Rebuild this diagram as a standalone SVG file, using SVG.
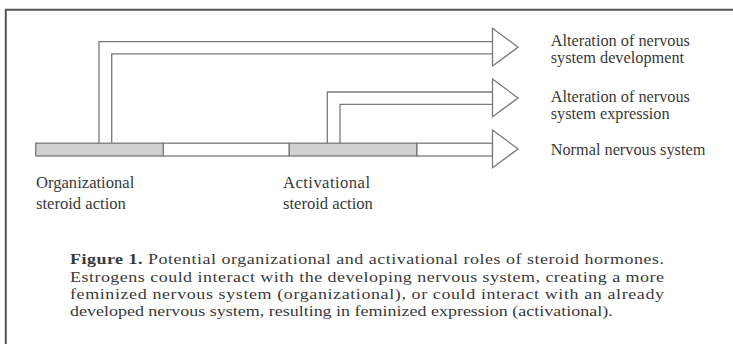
<svg xmlns="http://www.w3.org/2000/svg" width="733" height="344" viewBox="0 0 733 344">
<style>
.ln{fill:none;stroke:#7a7a7a;stroke-width:1.3}
.hd{fill:#fff;stroke:#7a7a7a;stroke-width:1.3;stroke-linejoin:miter}
.g{fill:#d0d0d0;stroke:#7a7a7a;stroke-width:1.3}
.w{fill:#fff;stroke:#7a7a7a;stroke-width:1.3}
.t{font-family:"Liberation Serif","Times New Roman",serif;font-size:16.3px;fill:#3a3a3a}
.s{font-size:16.6px}
.c{font-size:15px;fill:#3a3a3a;font-family:"Liberation Serif","Times New Roman",serif}
.b{font-weight:bold}
</style>
<rect width="733" height="344" fill="#fff"/>
<path d="M5.8,344 V9.8 H733" fill="none" stroke="#555" stroke-width="2"/>
<g id="connectors">
<path class="ln" d="M99,143 V41.7 H492.5"/>
<path class="ln" d="M111.7,143 V53.9 H492.5"/>
<path class="ln" d="M327.3,143 V92 H492.5"/>
<path class="ln" d="M340,143 V104.3 H492.5"/>
<polygon class="hd" points="492.5,28.3 518,47.2 492.5,66"/>
<polygon class="hd" points="492.5,79 518,98 492.5,116.7"/>
</g>
<g id="timeline">
<rect class="w" x="163.3" y="143.2" width="126" height="12.8"/>
<rect class="w" x="416.7" y="143.2" width="75.8" height="12.8"/>
<rect class="g" x="35.7" y="143.2" width="127.6" height="12.8"/>
<rect class="g" x="289.3" y="143.2" width="127.4" height="12.8"/>
<polygon class="hd" points="492.5,130 518,149 492.5,167.7"/>
</g>
<g id="out-development">
<text class="t" x="550.7" y="46">Alteration of nervous</text>
<text class="t" x="550.7" y="63.3">system development</text>
</g>
<g id="out-expression">
<text class="t" x="550.7" y="101.7">Alteration of nervous</text>
<text class="t" x="550.7" y="119">system expression</text>
</g>
<g id="out-normal">
<text class="t" x="550.7" y="155">Normal nervous system</text>
</g>
<g id="organizational">
<text class="t s" x="36" y="188.3">Organizational</text>
<text class="t s" x="36" y="209.3">steroid action</text>
</g>
<g id="activational">
<text class="t s" x="283" y="188.3" textLength="87">Activational</text>
<text class="t s" x="283" y="209.3">steroid action</text>
</g>
<g id="caption" transform="scale(1.2,1)">
<text class="c" x="58.33" y="264.3" textLength="495" lengthAdjust="spacing"><tspan class="b">Figure 1.</tspan> Potential organizational and activational roles of steroid hormones.</text>
<text class="c" x="58.33" y="281.6" textLength="495" lengthAdjust="spacing">Estrogens could interact with the developing nervous system, creating a more</text>
<text class="c" x="58.33" y="298.9" textLength="495" lengthAdjust="spacing">feminized nervous system (organizational), or could interact with an already</text>
<text class="c" x="58.33" y="316.2">developed nervous system, resulting in feminized expression (activational).</text>
</g>
</svg>
